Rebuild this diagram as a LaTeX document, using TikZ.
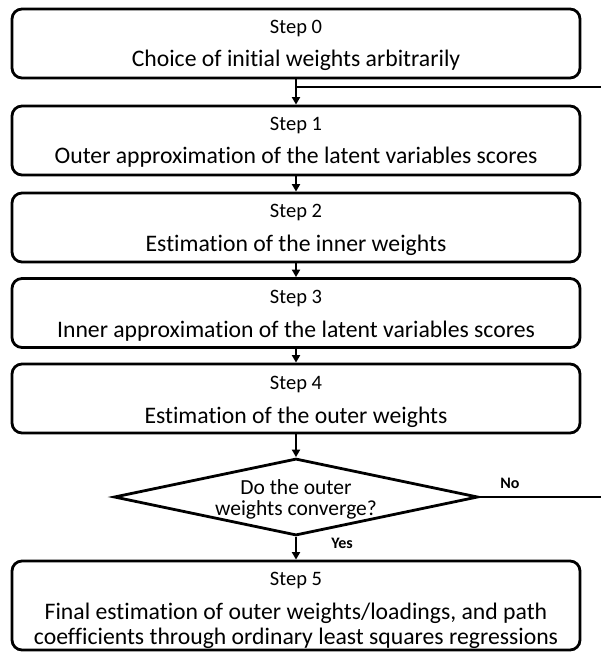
\documentclass[tikz,border=0pt]{standalone}
\usepackage{fontspec}
\setmainfont{Carlito}[Ligatures={NoCommon}]
\usetikzlibrary{shapes.geometric,arrows.meta}
\begin{document}
\begin{tikzpicture}[x=1pt,y=-1pt,
  stepbox/.style={draw, line width=2.8pt, rounded corners=10pt, minimum width=568pt, minimum height=69pt, inner sep=0pt},
  steplbl/.style={anchor=base, inner sep=0pt, font=\fontsize{20.5}{24}\selectfont},
  maintxt/.style={anchor=base, inner sep=0pt, font=\fontsize{23.7}{26}\selectfont},
  dtxt/.style={anchor=base, inner sep=0pt, font=\fontsize{21.5}{24}\selectfont},
  conn/.style={line width=2.2pt},
  arr/.style={conn, -{Triangle[length=7.5pt,width=8pt]}},
  lbl/.style={font=\fontsize{16}{18}\selectfont\bfseries}]
\useasboundingbox (0,0) rectangle (601,652);

% boxes
\node[stepbox] (b0) at (296,43.5) {};
\node[stepbox] (b1) at (296,140.5) {};
\node[stepbox] (b2) at (296,227.5) {};
\node[stepbox] (b3) at (296,313) {};
\node[stepbox] (b4) at (296,398.5) {};
\node[draw, diamond, line width=2.8pt, minimum width=364pt, minimum height=77pt, inner sep=0pt, aspect=4.7] (d) at (296,497) {};
\node[stepbox, minimum height=89pt] (b5) at (296,605.5) {};

% texts
\node[steplbl] (s0) at (296,33.3) {Step 0};
\node[maintxt] (t0) at (296,66.7) {Choice of initial weights arbitrarily};
\node[steplbl] (s1) at (296,130.3) {Step 1};
\node[maintxt] (t1) at (296,164) {Outer approximation of the latent variables scores};
\node[steplbl] (s2) at (296,217.3) {Step 2};
\node[maintxt] (t2) at (296,251) {Estimation of the inner weights};
\node[steplbl] (s3) at (296,303.3) {Step 3};
\node[maintxt] (t3) at (296,337) {Inner approximation of the latent variables scores};
\node[steplbl] (s4) at (296,389.3) {Step 4};
\node[maintxt] (t4) at (296,423) {Estimation of the outer weights};
\node[dtxt] (dt1) at (296,494) {Do the outer};
\node[dtxt] (dt2) at (296,515.5) {weights converge?};
\node[steplbl] (s5) at (296,585) {Step 5};
\node[maintxt] (t5a) at (296,619) {Final estimation of outer weights/loadings, and path};
\node[maintxt] (t5b) at (296,644) {coefficients through ordinary least squares regressions};

\coordinate (loopR) at (601,87);
\coordinate (j0) at (b0.south |- loopR);
\coordinate (noR) at (601,497);

\draw[arr] (b0) -- (b1);
\draw[conn] (j0) -- (loopR);
\draw[arr] (b1) -- (b2);
\draw[arr] (b2) -- (b3);
\draw[arr] (b3) -- (b4);
\draw[arr] (b4) -- (d);
\draw[conn] (d.east) -- (noR);
\draw[arr] (d) -- (b5);

\node[lbl] (no) at (510,483) {No};
\node[lbl] (yes) at (342,543) {Yes};
\end{tikzpicture}
\end{document}
